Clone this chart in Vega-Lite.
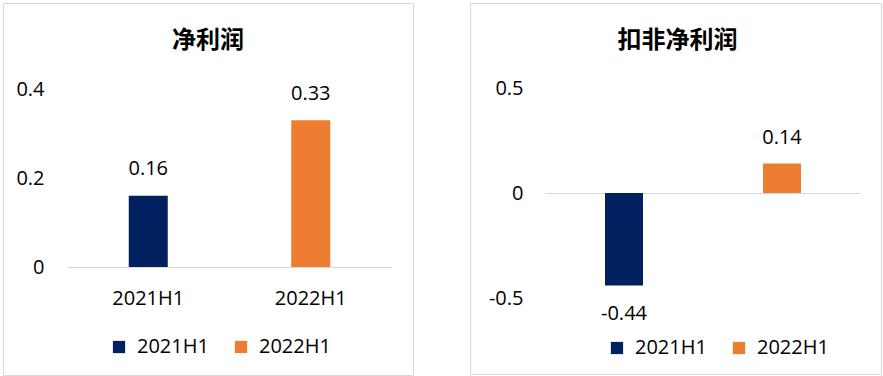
{
  "$schema": "https://vega.github.io/schema/vega-lite/v6.json",
  "padding": {"left": 2, "top": 2, "right": 0, "bottom": 0},
  "autosize": {"type": "pad"},
  "background": "white",
  "spacing": 55,
  "config": {
    "view": {"stroke": "#d9d9d9", "strokeWidth": 1},
    "font": "Open Sans",
    "axis": {"labelFont": "Open Sans", "labelFontSize": 20, "labelColor": "#000000", "ticks": false, "tickSize": 0, "grid": false},
    "legend": {"orient": "none", "direction": "horizontal", "symbolType": "square", "symbolSize": 150, "labelFont": "Open Sans", "labelFontSize": 20, "labelColor": "#000000", "columnPadding": 22, "labelOffset": 8, "symbolStrokeWidth": 0, "symbolOpacity": 1}
  },
  "hconcat": [
    {
      "width": 410,
      "height": 372,
      "data": {"values": [{"period": "2021H1", "value": 0.16}, {"period": "2022H1", "value": 0.33}]},
      "title": {"text": "净利润", "font": "Noto Sans CJK SC", "fontSize": 24, "fontWeight": "bold", "color": "#000000", "frame": "group", "anchor": "middle", "offset": -50},
      "encoding": {
        "x": {"field": "period", "type": "nominal", "sort": null,
          "scale": {"range": [64, 389], "paddingInner": 0.5, "paddingOuter": 0.25},
          "axis": {"orient": "bottom", "offset": -108, "domain": true, "domainColor": "#d9d9d9", "domainWidth": 1, "labelAngle": 0, "labelPadding": 21, "title": null}},
        "y": {"field": "value", "type": "quantitative",
          "scale": {"domain": [0, 0.4], "range": [264, 86], "nice": false, "zero": true},
          "axis": {"orient": "left", "offset": -43, "values": [0, 0.2, 0.4], "domain": false, "labelPadding": 2, "labelExpr": "'' + datum.value", "title": null}}
      },
      "layer": [
        {"mark": {"type": "bar", "size": 39},
         "encoding": {"color": {"field": "period", "type": "nominal",
           "scale": {"domain": ["2021H1", "2022H1"], "range": ["#002060", "#ED7D31"]},
           "legend": {"title": null, "legendX": 106, "legendY": 334}}}},
        {"mark": {"type": "text", "dy": -26.5, "baseline": "middle", "fontSize": 20, "font": "Open Sans", "color": "#000000"},
         "encoding": {"text": {"field": "value", "type": "nominal"}}}
      ]
    },
    {
      "width": 411,
      "height": 371,
      "data": {"values": [{"period": "2021H1", "value": -0.44}, {"period": "2022H1", "value": 0.14}]},
      "title": {"text": "扣非净利润", "font": "Noto Sans CJK SC", "fontSize": 24, "fontWeight": "bold", "color": "#000000", "frame": "group", "anchor": "middle", "offset": -50, "dx": 2},
      "encoding": {
        "x": {"field": "period", "type": "nominal", "sort": null,
          "scale": {"range": [75, 391], "paddingInner": 0.5, "paddingOuter": 0.25},
          "axis": {"orient": "bottom", "offset": -181, "domain": true, "domainColor": "#d9d9d9", "domainWidth": 1, "labels": false, "title": null}},
        "y": {"field": "value", "type": "quantitative",
          "scale": {"domain": [-0.5, 0.5], "range": [295, 85], "nice": false, "zero": true},
          "axis": {"orient": "left", "offset": -55, "values": [-0.5, 0, 0.5], "domain": false, "labelPadding": 2, "labelExpr": "'' + datum.value", "title": null}}
      },
      "layer": [
        {"mark": {"type": "bar", "size": 38},
         "encoding": {"color": {"field": "period", "type": "nominal",
           "scale": {"domain": ["2021H1", "2022H1"], "range": ["#002060", "#ED7D31"]},
           "legend": {"title": null, "legendX": 137, "legendY": 335}}}},
        {"transform": [{"filter": "datum.value >= 0"}],
         "mark": {"type": "text", "dy": -26, "baseline": "middle", "fontSize": 20, "font": "Open Sans", "color": "#000000"},
         "encoding": {"text": {"field": "value", "type": "nominal"}}},
        {"transform": [{"filter": "datum.value < 0"}],
         "mark": {"type": "text", "dy": 29, "baseline": "middle", "fontSize": 20, "font": "Open Sans", "color": "#000000"},
         "encoding": {"text": {"field": "value", "type": "nominal"}}}
      ]
    }
  ],
  "resolve": {"scale": {"color": "independent", "x": "independent", "y": "independent"}, "legend": {"color": "independent"}}
}
